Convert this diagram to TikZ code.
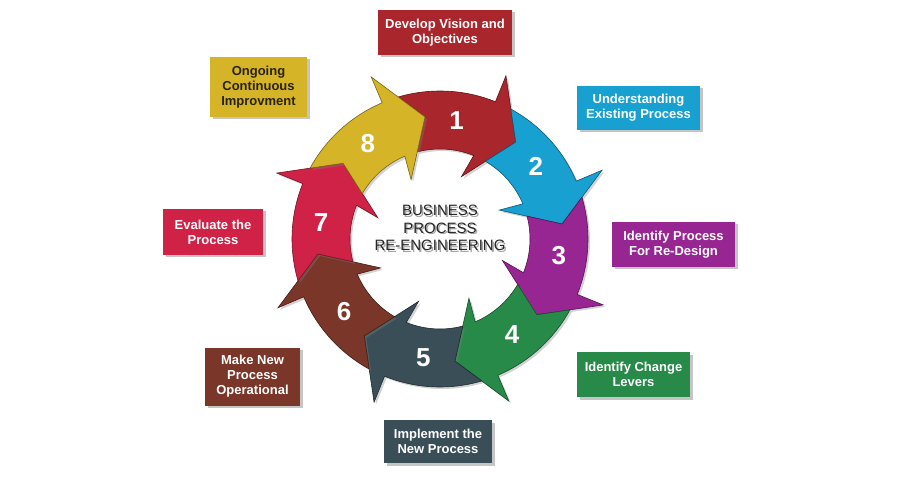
\documentclass[tikz,border=0pt]{standalone}
\usepackage{fontspec}
\setmainfont{Liberation Sans}
\usetikzlibrary{shadows}
\definecolor{c1}{RGB}{168,38,44}
\definecolor{c2}{RGB}{24,160,208}
\definecolor{c3}{RGB}{152,38,146}
\definecolor{c4}{RGB}{40,138,72}
\definecolor{c5}{RGB}{58,78,88}
\definecolor{c6}{RGB}{122,54,40}
\definecolor{c7}{RGB}{208,34,70}
\definecolor{c8}{RGB}{214,180,40}
\definecolor{ctxt}{RGB}{38,38,38}
\definecolor{gtxt}{RGB}{40,34,10}
\begin{document}
\begin{tikzpicture}[x=1pt,y=1pt,
  lbl/.style={rectangle, minimum width=#1, align=center, inner sep=0pt,
    font=\bfseries\fontsize{13}{15}\selectfont, text=white,
    drop shadow={opacity=0.45, shadow xshift=2.5pt, shadow yshift=-2.5pt}},
  num/.style={font=\bfseries\fontsize{26}{26}\selectfont, text=white},
  ctr/.style={font=\fontsize{15}{17.5}\selectfont, align=center},
  arrowpiece/.style={line width=0.6pt,
    drop shadow={opacity=0.35, shadow xshift=2pt, shadow yshift=-2pt}}]
\useasboundingbox (0,0) rectangle (900,480);
\fill[white] (0,0) rectangle (900,480);
\coordinate (C) at (440,241);
\begin{scope}[shift={(C)}]
\foreach \k/\c in {1/c1,2/c2,3/c3,4/c4,5/c5,6/c6,7/c7,8/c8}{
  \pgfmathsetmacro{\hb}{68-45*(\k-1)}
  \pgfmathsetmacro{\t}{\hb+45}
  \pgfmathsetmacro{\ta}{\t-6.6}
  \pgfmathsetmacro{\tb}{\t-8.3}
  \pgfmathsetmacro{\tn}{\t-16}
  \pgfmathsetmacro{\tip}{\hb-16}
  \pgfmathsetmacro{\ib}{\hb+3}
  \pgfmathsetmacro{\la}{\hb+14}
  \path[arrowpiece, fill=\c, draw=\c!55!black]
    (\ta:148) arc[start angle=\ta, end angle=\hb, radius=148]
    -- (\hb:176) -- (\tip:123) -- (\ib:66) -- (\hb:90)
    arc[start angle=\hb, end angle=\tb, radius=90]
    -- (\tn:123) -- cycle;
  \node[num] (n\k) at (\la:120) {\k};
}
\end{scope}
\node[ctr, text=black!35] (centershadow) at (441.5,250.5) {BUSINESS\\PROCESS\\RE-ENGINEERING};
\node[ctr, text=ctxt] (center) at (440,252) {BUSINESS\\PROCESS\\RE-ENGINEERING};
\node[lbl=134pt, minimum height=45pt, fill=c1] (b1) at (445,447.5) {Develop Vision and\\Objectives};
\node[lbl=123pt, minimum height=44pt, fill=c2] (b2) at (638.5,372) {Understanding\\Existing Process};
\node[lbl=123pt, minimum height=45pt, fill=c3] (b3) at (673.5,235.5) {Identify Process\\For Re-Design};
\node[lbl=113pt, minimum height=45pt, fill=c4] (b4) at (633.5,105.5) {Identify Change\\Levers};
\node[lbl=108pt, minimum height=43pt, fill=c5] (b5) at (438,38.5) {Implement the\\New Process};
\node[lbl=95pt, minimum height=58pt, fill=c6] (b6) at (252.5,103.5) {Make New\\Process\\Operational};
\node[lbl=100pt, minimum height=46pt, fill=c7] (b7) at (213,248) {Evaluate the\\Process};
\node[lbl=97pt, minimum height=60pt, fill=c8, text=gtxt] (b8) at (258.5,393) {Ongoing\\Continuous\\Improvment};
\end{tikzpicture}
\end{document}
